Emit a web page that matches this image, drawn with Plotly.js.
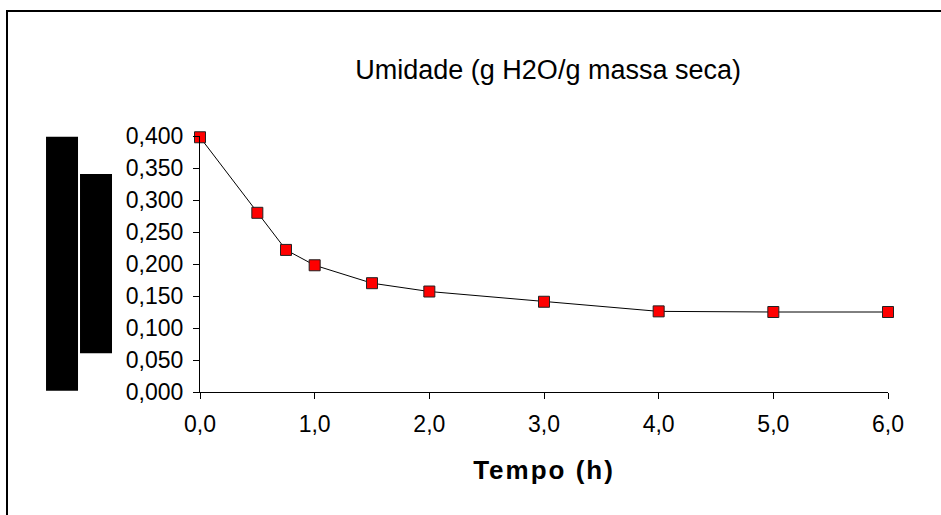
<!DOCTYPE html>
<html>
<head>
<meta charset="utf-8">
<script src="https://cdn.plot.ly/plotly-3.0.1.min.js"></script>
<style>
  html, body { margin: 0; padding: 0; background: #fff; overflow: hidden; }
  #wrap { position: relative; width: 941px; height: 515px; }
  #chart { width: 941px; height: 515px; }
  #frame { position: absolute; left: 6px; top: 10px; width: 960px; height: 540px;
           border-top: 2px solid #000; border-left: 2px solid #000; pointer-events: none; z-index: 5; }
  #chart .xtitle { letter-spacing: 2px; }
</style>
</head>
<body>
<div id="wrap">
  <div id="chart"></div>
  <div id="frame"></div>
</div>
<script>
// Data
const tempo = [0.0, 0.5, 0.75, 1.0, 1.5, 2.0, 3.0, 4.0, 5.0, 6.0];
const umidade = [0.398, 0.280, 0.222, 0.198, 0.170, 0.157, 0.141, 0.126, 0.125, 0.125];
const xTickVals = [0, 1, 2, 3, 4, 5, 6];
const xTickText = ["0,0", "1,0", "2,0", "3,0", "4,0", "5,0", "6,0"];
const yTickVals = [0, 0.05, 0.1, 0.15, 0.2, 0.25, 0.3, 0.35, 0.4];
const yTickText = ["0,000", "0,050", "0,100", "0,150", "0,200", "0,250", "0,300", "0,350", "0,400"];
const chartTitle = "Umidade (g H2O/g massa seca)";
const xTitle = "Tempo (h)";

const FONT = "Liberation Sans, Arial, Helvetica, sans-serif";

const trace = {
  x: tempo,
  y: umidade,
  type: "scatter",
  mode: "lines+markers",
  line: { color: "#000000", width: 1 },
  marker: { symbol: "square", size: 11, color: "#ff0000", line: { color: "#222222", width: 1 } },
  cliponaxis: false,
  hoverinfo: "x+y"
};

const layout = {
  width: 941,
  height: 515,
  margin: { l: 200, r: 53, t: 136, b: 123 },
  paper_bgcolor: "#ffffff",
  plot_bgcolor: "#ffffff",
  showlegend: false,
  font: { family: FONT, color: "#000000", size: 21 },
  title: {
    text: chartTitle,
    font: { family: FONT, size: 27, color: "#000000" },
    x: 0.506, xanchor: "center",
    y: 0.864, yanchor: "middle",
    xref: "paper", yref: "container"
  },
  xaxis: {
    range: [0, 6],
    tickvals: xTickVals,
    ticktext: xTickText,
    showgrid: false,
    zeroline: false,
    showline: true,
    linecolor: "#000000",
    linewidth: 1,
    ticks: "outside",
    ticklen: 6,
    tickcolor: "#000000",
    tickwidth: 1,
    tickfont: { family: FONT, size: 23, color: "#000000" },
    ticklabelstandoff: 5,
    title: {
      text: "<b>" + xTitle + "</b>",
      font: { family: FONT, size: 26, color: "#000000" },
      standoff: 25
    },
    fixedrange: true
  },
  yaxis: {
    range: [0, 0.4],
    tickvals: yTickVals,
    ticktext: yTickText,
    showgrid: false,
    zeroline: false,
    showline: true,
    linecolor: "#000000",
    linewidth: 1,
    ticks: "outside",
    ticklen: 6,
    tickcolor: "#000000",
    tickwidth: 1,
    tickfont: { family: FONT, size: 23, color: "#000000" },
    ticklabelstandoff: 5,
    fixedrange: true
  },
  shapes: [
    { type: "rect", xref: "paper", yref: "paper", x0: -0.2238, x1: -0.1773, y0: 0.005, y1: 0.997,
      fillcolor: "#000000", line: { width: 0 }, layer: "above" },
    { type: "rect", xref: "paper", yref: "paper", x0: -0.1744, x1: -0.1279, y0: 0.151, y1: 0.8516,
      fillcolor: "#000000", line: { width: 0 }, layer: "above" }
  ]
};

Plotly.newPlot("chart", [trace], layout, { displayModeBar: false, staticPlot: true });
</script>
</body>
</html>
